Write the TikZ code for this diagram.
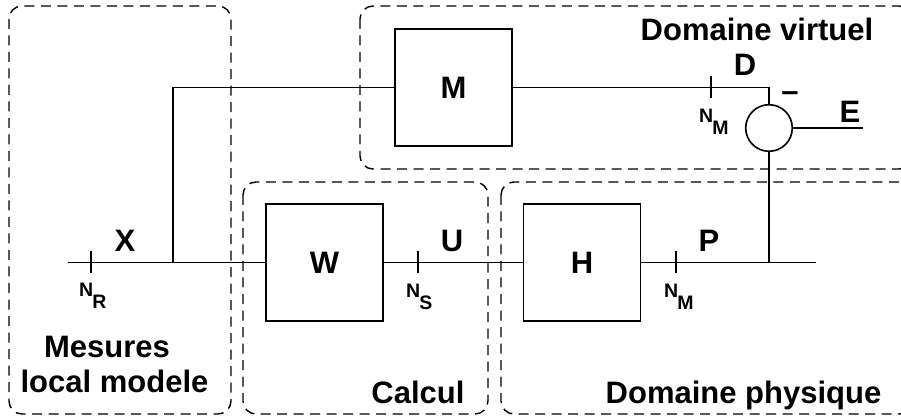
\documentclass[tikz,border=0pt]{standalone}
\usepackage{fontspec}
\setmainfont{Liberation Sans}
\newcommand\nsub[1]{N\kern-1pt\raisebox{-12pt}{#1}}
\begin{document}
\begin{tikzpicture}[x=1pt,y=-1pt,
  blk/.style={draw,line width=1.6pt,minimum width=117pt,minimum height=117pt,inner sep=0pt,font=\bfseries\fontsize{31}{36}\selectfont},
  zone/.style={draw,line width=1.4pt,dash pattern=on 10pt off 6.5pt,rounded corners=13pt},
  wire/.style={line width=1.6pt},
  lbl/.style={font=\bfseries\fontsize{31}{36}\selectfont,inner sep=0pt,anchor=base},
  nlbl/.style={font=\bfseries\fontsize{19.5}{22}\selectfont,inner sep=0pt,anchor=base west},
  tick/.style={line width=1.6pt}
]
\useasboundingbox (0,0) rectangle (901,419);
% zones
\draw[zone] (9,6) rectangle (231,414);
\draw[zone] (360,6) rectangle (912,169);
\draw[zone] (243,182) rectangle (488,414);
\draw[zone] (501,182) rectangle (912,414);
% blocks
\node[blk] (M) at (453.5,87.5) {M};
\node[blk] (W) at (324.5,262.5) {W};
\node[blk] (H) at (582,262.5) {H};
\node[draw,circle,line width=1.6pt,minimum size=46.6pt,inner sep=0pt] (S) at (769,128) {};
% coordinates
\coordinate (in) at (68,262.5);
\coordinate (br) at (173,262.5);
\coordinate (out) at (816,262.5);
\coordinate (j) at (769,262.5);
\coordinate (Eend) at (863,128);
\coordinate (tR) at (91,262.5);
\coordinate (tS) at (418,262.5);
\coordinate (tM) at (676,262.5);
\coordinate (tD) at (711,87.5);
% wires
\draw[wire] (in) -- (W.west);
\draw[wire] (br) |- (M.west);
\draw[wire] (M.east) -| (S.north);
\draw[wire] (W.east) -- (H.west);
\draw[wire] (H.east) -- (out);
\draw[wire] (S.south) -- (j);
\draw[wire] (S.east) -- (Eend);
% ticks
\foreach \t in {tR,tS,tM,tD}
  \draw[tick] ([yshift=-11pt]\t) -- ([yshift=11pt]\t);
% labels
\node[lbl] (lX) at (125,252) {X};
\node[lbl] (lU) at (452,252) {U};
\node[lbl] (lP) at (709,252) {P};
\node[lbl] (lD) at (745,76) {D};
\node[lbl] (lE) at (850,123) {E};
\node[lbl] (lminus) at (790,102) {–};
\node[nlbl] (nR) at (79,297) {\nsub{R}};
\node[nlbl] (nS) at (406,298) {\nsub{S}};
\node[nlbl] (nM1) at (664,298) {\nsub{M}};
\node[nlbl] (nM2) at (699,123) {\nsub{M}};
\node[lbl] (tv) at (757,41) {Domaine virtuel};
\node[lbl] (tm1) at (107,357) {Mesures};
\node[lbl] (tm2) at (114.5,392) {local modele};
\node[lbl] (tc) at (418,403) {Calcul};
\node[lbl] (tp) at (743.5,403) {Domaine physique};
\end{tikzpicture}
\end{document}
